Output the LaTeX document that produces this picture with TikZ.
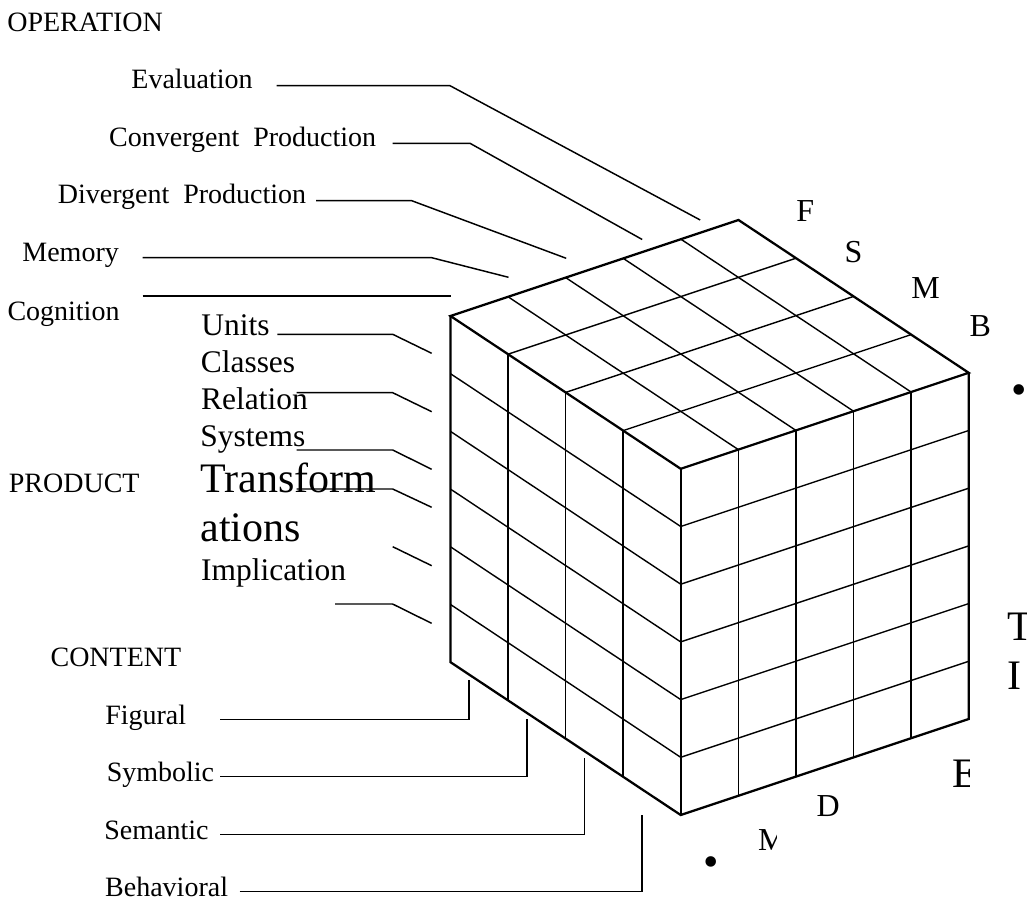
\documentclass[tikz,border=0pt]{standalone}
\usepackage{fontspec}
\setmainfont{Liberation Serif}
\begin{document}
\begin{tikzpicture}[x=0.75pt,y=-0.75pt,
  lbl/.style={anchor=base west,inner sep=0pt,outer sep=0pt,font=\fontsize{21}{25}\selectfont},
  prodlbl/.style={lbl,font=\fontsize{23.6}{28}\selectfont},
  biglbl/.style={lbl,align=left,font=\fontsize{31.5}{36.9}\selectfont},
  axislbl/.style={lbl,font=\fontsize{24}{28}\selectfont},
  dotlbl/.style={inner sep=0pt,outer sep=0pt,font=\fontsize{33}{38}\selectfont},
  leader/.style={line width=1.1pt},
  gridline/.style={line width=1.05pt},
  rim/.style={line width=1.7pt,line join=miter},
]
\useasboundingbox (0,0) rectangle (1027,902);
\fill[white] (0,0) rectangle (1027,902);
\clip (0,0) rectangle (1027,902);

% ---------- the 5 x 4 x 6 cube ----------
\coordinate (L)  at (450.5,316);
\coordinate (B)  at (738.5,220);
\coordinate (R)  at (968.7,372.8);
\coordinate (F)  at (680.7,468.8);
\coordinate (Lb) at (450.5,662.2);
\coordinate (Fb) at (680.7,815);
\coordinate (Rb) at (968.7,719);

% top face
\foreach \i in {1,...,3}
  \draw[gridline] ({450.5+57.55*\i},{316+38.2*\i}) -- ++(288,-96);
\foreach \j in {1,...,4}
  \draw[gridline] ({450.5+57.6*\j},{316-19.2*\j}) -- ++(230.2,152.8);
% left face
\foreach \k in {1,...,5}
  \draw[gridline] (450.5,{316+57.7*\k}) -- ++(230.2,152.8);
\foreach \i in {1,...,3}
  \draw[gridline] ({450.5+57.55*\i},{316+38.2*\i}) -- ++(0,346.2);
% right face
\foreach \k in {1,...,5}
  \draw[gridline] (680.7,{468.8+57.7*\k}) -- ++(288,-96);
\foreach \j in {1,...,4}
  \draw[gridline] ({680.7+57.6*\j},{468.8-19.2*\j}) -- ++(0,346.2);
% outline
\draw[rim] (L) -- (B) -- (R) -- (F) -- cycle;
\draw[rim] (L) -- (Lb) -- (Fb) -- (Rb) -- (R);
\draw[rim] (F) -- (Fb);

% ---------- headings ----------
\node[lbl] (operation) at (7.3,32) {OPERATION};
\node[lbl] (product)   at (8.9,492.7) {PRODUCT};
\node[lbl] (content)   at (50.6,666) {CONTENT};

% ---------- operations ----------
\node[lbl] (evaluation) at (131.4,88.7) {Evaluation};
\node[lbl] (convergent) at (109.2,146.7) {Convergent\ \ Production};
\node[lbl] (divergent)  at (57.9,204) {Divergent\ \ Production};
\node[lbl] (memory)     at (22.4,261.7) {Memory};
\node[lbl] (cognition)  at (7.5,320) {Cognition};

\coordinate (ev1) at (276.7,85.7);  \coordinate (ev2) at (450,85.7);    \coordinate (ev3) at (700.2,220);
\coordinate (cv1) at (392.7,143.3); \coordinate (cv2) at (470,143.3);   \coordinate (cv3) at (642.2,239.5);
\coordinate (dv1) at (316,200.7);   \coordinate (dv2) at (411.7,200.7); \coordinate (dv3) at (566.2,258.3);
\coordinate (me1) at (142.7,257.7); \coordinate (me2) at (431.7,257.7); \coordinate (me3) at (508.5,277.3);
\coordinate (co1) at (142.7,296);   \coordinate (co2) at (450.7,296);
\draw[leader] (ev1) -- (ev2) -- (ev3);
\draw[leader] (cv1) -- (cv2) -- (cv3);
\draw[leader] (dv1) -- (dv2) -- (dv3);
\draw[leader] (me1) -- (me2) -- (me3);
\draw[leader] (co1) -- (co2);

% ---------- products ----------
\node[prodlbl] (units)    at (201.3,335) {Units};
\node[prodlbl] (classes)  at (200.8,372.3) {Classes};
\node[prodlbl] (relation) at (201.2,409.5) {Relation};
\node[prodlbl] (systems)  at (200.4,446) {Systems};
% two-line node: its base anchor sits on the last line
\node[biglbl]  (transf)   at (200.6,541.7) {Transform\\ations};
\node[prodlbl] (implic)   at (201.1,580) {Implication};

\coordinate (un1) at (277.3,334.3); \coordinate (un2) at (392.7,334.3); \coordinate (un3) at (431.7,353.3);
\coordinate (re1) at (296.7,392.7); \coordinate (re2) at (392.7,392.7); \coordinate (re3) at (431.7,411.7);
\coordinate (sy1) at (296.7,450);   \coordinate (sy2) at (392.7,450);   \coordinate (sy3) at (431.7,469.3);
\coordinate (tr1) at (296.7,489);   \coordinate (tr2) at (392.7,489);   \coordinate (tr3) at (431.7,507.3);
\coordinate (xa1) at (392.7,546.7); \coordinate (xa2) at (431.7,565.7);
\coordinate (xb1) at (335.2,604);   \coordinate (xb2) at (392.6,604);   \coordinate (xb3) at (431.6,623.3);
\draw[leader] (un1) -- (un2) -- (un3);
\draw[leader] (re1) -- (re2) -- (re3);
\draw[leader] (sy1) -- (sy2) -- (sy3);
\draw[leader] (tr1) -- (tr2) -- (tr3);
\draw[leader] (xa1) -- (xa2);
\draw[leader] (xb1) -- (xb2) -- (xb3);

% ---------- contents ----------
\node[lbl] (figural)    at (105.3,724) {Figural};
\node[lbl] (symbolic)   at (106.8,781.3) {Symbolic};
\node[lbl] (semantic)   at (104.4,839) {Semantic};
\node[lbl] (behavioral) at (105.2,896.5) {Behavioral};

\coordinate (fi1) at (220.4,719.3); \coordinate (fi2) at (469.2,719.3); \coordinate (fi3) at (469.2,680);
\coordinate (sb1) at (220.4,776.7); \coordinate (sb2) at (527,776.7);   \coordinate (sb3) at (527,719.3);
\coordinate (se1) at (220.4,834.3); \coordinate (se2) at (584.5,834.3); \coordinate (se3) at (584.5,757.7);
\coordinate (be1) at (239.7,891.7); \coordinate (be2) at (641.9,891.7); \coordinate (be3) at (641.9,815);
\draw[leader] (fi1) -- (fi2) -- (fi3);
\draw[leader] (sb1) -- (sb2) -- (sb3);
\draw[leader] (se1) -- (se2) -- (se3);
\draw[leader] (be1) -- (be2) -- (be3);

% ---------- letters around the cube ----------
\node[axislbl] (lF) at (796.3,221.7) {F};
\node[axislbl] (lS) at (844.7,262.7) {S};
\node[axislbl] (lM) at (911.3,298.3) {M};
\node[axislbl] (lB) at (969.5,336.7) {B};
\node[axislbl] (lD) at (816.5,816.7) {D};
\begin{scope}
  \clip (0,0) rectangle (776,902);
  \node[axislbl] (lMb) at (758,850) {M};
\end{scope}
\node[biglbl] (lT) at (1007.6,640) {T};
\node[biglbl] (lI) at (1007.5,689.3) {I};
\begin{scope}
  \clip (0,0) rectangle (969.3,902);
  \node[biglbl] (lE) at (952.2,787.3) {E};
\end{scope}

% ---------- bullets ----------
\node[dotlbl] (dotA) at (1019.5,394.4) {•};
\node[dotlbl] (dotB) at (710.7,867) {•};
\end{tikzpicture}
\end{document}
